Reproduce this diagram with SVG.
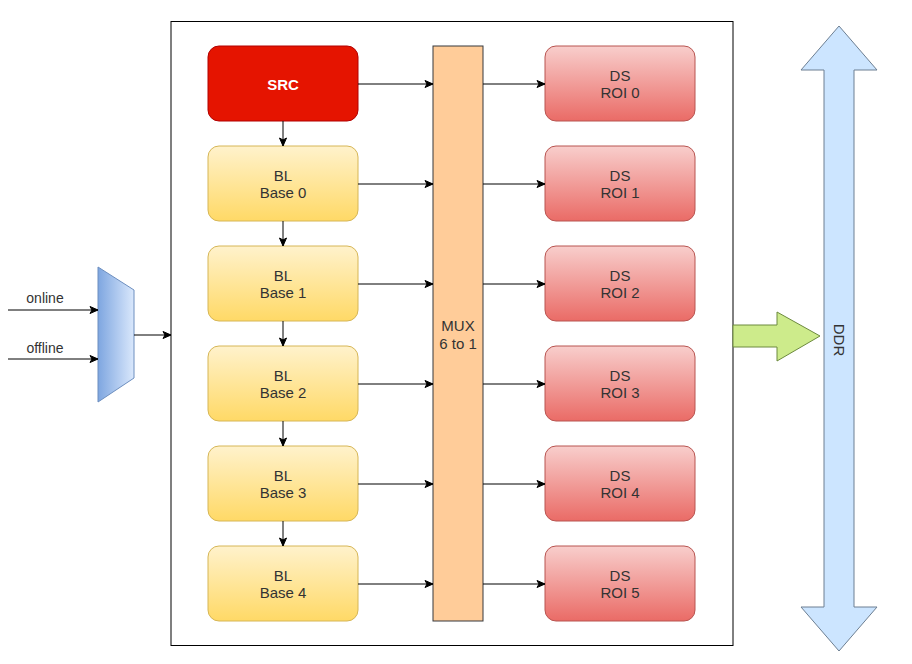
<svg xmlns="http://www.w3.org/2000/svg" width="912" height="664" viewBox="0 0 912 664">
<defs>
<linearGradient id="gBL" x1="0" y1="0" x2="0" y2="1"><stop offset="0" stop-color="#fff2cc"/><stop offset="1" stop-color="#ffd966"/></linearGradient>
<linearGradient id="gDS" x1="0" y1="0" x2="0" y2="1"><stop offset="0" stop-color="#f8cecc"/><stop offset="1" stop-color="#ea6b66"/></linearGradient>
<linearGradient id="gTR" x1="0" y1="0" x2="1" y2="0"><stop offset="0" stop-color="#7ea6e0"/><stop offset="1" stop-color="#dae8fc"/></linearGradient>
<marker id="ah" markerUnits="userSpaceOnUse" markerWidth="10" markerHeight="10" viewBox="0 0 10 10" refX="9" refY="5" orient="auto">
<path d="M1,1.5 L9,5 L1,8.5 L3,5 z" fill="#000" stroke="#000" stroke-width="1"/>
</marker>
<style>
.bl{fill:url(#gBL);stroke:#d6b656;stroke-width:1}
.ds{fill:url(#gDS);stroke:#b85450;stroke-width:1}
.t{font-family:"Liberation Sans",Arial,sans-serif;font-size:15px;fill:#333;text-anchor:middle}
.c{stroke:#000;stroke-width:1;fill:none;marker-end:url(#ah)}
</style>
</defs>
<rect width="912" height="664" fill="#fff"/>
<g id="frame"><rect x="171" y="21.5" width="562" height="624" fill="#fff" stroke="#000" stroke-width="1"/></g>
<g id="src"><rect x="208" y="46" width="150" height="75" rx="11" fill="#e51400" stroke="#b20000"/><text class="t" x="283" y="89.5" style="fill:#fff;font-weight:bold">SRC</text></g>
<g id="bl0"><rect class="bl" x="208" y="146" width="150" height="75" rx="11"/><text class="t" x="283" y="180.5">BL</text><text class="t" x="283" y="197.5">Base 0</text></g>
<g id="bl1"><rect class="bl" x="208" y="246" width="150" height="75" rx="11"/><text class="t" x="283" y="280.5">BL</text><text class="t" x="283" y="297.5">Base 1</text></g>
<g id="bl2"><rect class="bl" x="208" y="346" width="150" height="75" rx="11"/><text class="t" x="283" y="380.5">BL</text><text class="t" x="283" y="397.5">Base 2</text></g>
<g id="bl3"><rect class="bl" x="208" y="446" width="150" height="75" rx="11"/><text class="t" x="283" y="480.5">BL</text><text class="t" x="283" y="497.5">Base 3</text></g>
<g id="bl4"><rect class="bl" x="208" y="546" width="150" height="75" rx="11"/><text class="t" x="283" y="580.5">BL</text><text class="t" x="283" y="597.5">Base 4</text></g>
<g id="mux"><rect x="433" y="46" width="50" height="575" fill="#ffcc99" stroke="#36393d"/><text class="t" x="458" y="330.5">MUX</text><text class="t" x="458" y="348.5">6 to 1</text></g>
<g id="ds0"><rect class="ds" x="545" y="46" width="150" height="75" rx="11"/><text class="t" x="620" y="80.5">DS</text><text class="t" x="620" y="98">ROI 0</text></g>
<g id="ds1"><rect class="ds" x="545" y="146" width="150" height="75" rx="11"/><text class="t" x="620" y="180.5">DS</text><text class="t" x="620" y="198">ROI 1</text></g>
<g id="ds2"><rect class="ds" x="545" y="246" width="150" height="75" rx="11"/><text class="t" x="620" y="280.5">DS</text><text class="t" x="620" y="298">ROI 2</text></g>
<g id="ds3"><rect class="ds" x="545" y="346" width="150" height="75" rx="11"/><text class="t" x="620" y="380.5">DS</text><text class="t" x="620" y="398">ROI 3</text></g>
<g id="ds4"><rect class="ds" x="545" y="446" width="150" height="75" rx="11"/><text class="t" x="620" y="480.5">DS</text><text class="t" x="620" y="498">ROI 4</text></g>
<g id="ds5"><rect class="ds" x="545" y="546" width="150" height="75" rx="11"/><text class="t" x="620" y="580.5">DS</text><text class="t" x="620" y="598">ROI 5</text></g>
<g id="selector"><path d="M98,267 L134,290 L134,378 L98,402 Z" fill="url(#gTR)" stroke="#6c8ebf"/></g>
<g id="ddr"><path d="M839,26 L877,70 L854,70 L854,607 L877,607 L839,651 L801,607 L824,607 L824,70 L801,70 Z" fill="#cce5ff" stroke="#6d7f92"/><text class="t" x="0" y="0" transform="translate(834,340) rotate(90)">DDR</text></g>
<g id="out"><path d="M733,325 L777,325 L777,312 L820,336 L777,361 L777,347 L733,347 Z" fill="#cdeb8b" stroke="#6d8a3e"/></g>
<g id="labels"><text class="t" x="45" y="302.5" style="font-size:14px">online</text><text class="t" x="45" y="352.5" style="font-size:14px">offline</text></g>
<g id="connectors">
<line class="c" x1="8" y1="310" x2="98" y2="310"/>
<line class="c" x1="8" y1="359" x2="98" y2="359"/>
<line class="c" x1="134" y1="335" x2="171" y2="335"/>
<line class="c" x1="283" y1="121" x2="283" y2="146"/>
<line class="c" x1="283" y1="221" x2="283" y2="246"/>
<line class="c" x1="283" y1="321" x2="283" y2="346"/>
<line class="c" x1="283" y1="421" x2="283" y2="446"/>
<line class="c" x1="283" y1="521" x2="283" y2="546"/>
<line class="c" x1="358" y1="84" x2="433" y2="84"/>
<line class="c" x1="358" y1="184" x2="433" y2="184"/>
<line class="c" x1="358" y1="284" x2="433" y2="284"/>
<line class="c" x1="358" y1="384" x2="433" y2="384"/>
<line class="c" x1="358" y1="484" x2="433" y2="484"/>
<line class="c" x1="358" y1="584" x2="433" y2="584"/>
<line class="c" x1="483" y1="84" x2="545" y2="84"/>
<line class="c" x1="483" y1="184" x2="545" y2="184"/>
<line class="c" x1="483" y1="284" x2="545" y2="284"/>
<line class="c" x1="483" y1="384" x2="545" y2="384"/>
<line class="c" x1="483" y1="484" x2="545" y2="484"/>
<line class="c" x1="483" y1="584" x2="545" y2="584"/>
</g>
</svg>
